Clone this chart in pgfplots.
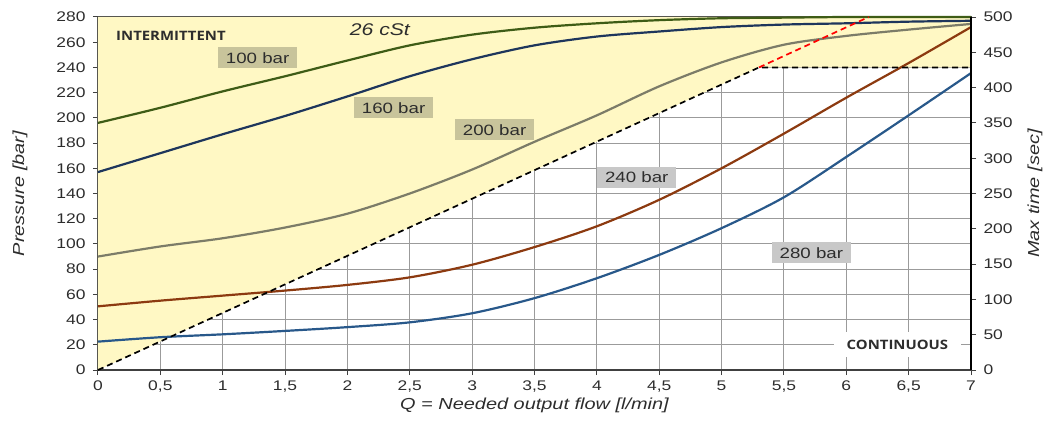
\documentclass[border=0pt]{standalone}
\usepackage{fontspec}
\setmainfont[FakeStretch=1.25]{Liberation Sans}
\newfontfamily\boldlabel[FakeStretch=1.15]{Open Sans}
\usepackage{pgfplots}
\pgfplotsset{compat=1.18}
\definecolor{yellowbg}{RGB}{255,248,196}
\definecolor{gridgray}{RGB}{155,155,155}
\definecolor{axisgray}{RGB}{64,64,64}
\definecolor{labelgray}{RGB}{45,45,45}
\definecolor{cgreen}{RGB}{62,92,22}
\definecolor{cnavy}{RGB}{30,54,92}
\definecolor{cgray}{RGB}{124,124,104}
\definecolor{cbrown}{RGB}{140,58,16}
\definecolor{cblue}{RGB}{40,88,138}
\definecolor{khaki}{RGB}{200,196,155}
\definecolor{boxgray}{RGB}{200,200,200}
\pgfplotstableread{
x p100 p160 p200 p240 p280
0 196 157 90 50.5 22.5
0.5 208 172 98 55 26
1 221 187 104.5 59 28.3
1.5 233 201.5 113 63 31
2 245.5 217 124 67.5 34
2.5 257.5 233 140 73.5 37.8
3 266 246.5 159 83.5 45
3.5 271.5 257.5 181 97.5 57
4 275 264.5 202 114 72.8
4.5 277.5 268.5 225 135 91.3
5 279 272 244 160 112.5
5.5 279.5 274 258 187.5 137
6 280 275 265 216 169
6.5 280 276.3 270 243.5 202
7 280 277 274.5 272 235.5
}\curves
\begin{document}
\begin{tikzpicture}
\begin{axis}[
  name=main,
  scale only axis, width=873bp, height=353bp,
  xmin=0, xmax=7, ymin=0, ymax=280,
  xtick={0,0.5,...,7}, ytick={0,20,...,280},
  grid=major, grid style={color=gridgray, line width=1.1bp},
  axis line style={color=axisgray, line width=1.3bp},
  tick style={color=axisgray, line width=1bp},
  tick align=outside, tick pos=left, major tick length=5bp,
  /pgf/number format/use comma,
  /pgf/number format/assume math mode=true,
  ticklabel style={font=\fontsize{14}{14}\selectfont, text=labelgray},
  yticklabel style={xshift=-4bp},
  xticklabel style={yshift=-2bp},
  xlabel={\itshape Q = Needed output flow [l/min]},
  ylabel={\itshape Pressure [bar]},
  every axis x label/.append style={at={(axis description cs:0.5,-0.099)}, anchor=center, font=\fontsize{16}{16}\selectfont, text=labelgray},
  every axis y label/.append style={at={(axis description cs:-0.0893,0.5)}, anchor=center, rotate=0, font=\fontsize{16}{16}\selectfont, text=labelgray},
  clip=false,
]
\addplot[fill=yellowbg, draw=none] coordinates {(0,0) (5.3,240) (7,240) (7,280) (0,280) (0,0)};
\addplot[cgreen, line width=2.2bp, smooth] table[x=x, y=p100] {\curves};
\addplot[cnavy, line width=2.2bp, smooth] table[x=x, y=p160] {\curves};
\addplot[cgray, line width=2.2bp, smooth] table[x=x, y=p200] {\curves};
\addplot[cbrown, line width=2.2bp, smooth] table[x=x, y=p240] {\curves};
\addplot[cblue, line width=2.2bp, smooth] table[x=x, y=p280] {\curves};
\addplot[black, line width=1.7bp, dash pattern=on 6bp off 4bp] coordinates {(0,0) (5.3,240) (7,240)};
\addplot[red, line width=1.7bp, dash pattern=on 6bp off 4bp] coordinates {(5.3,240) (6.18,280)};
\node[fill=yellowbg, inner xsep=12bp, minimum height=30bp, font=\boldlabel\bfseries\fontsize{13}{13}\selectfont, text=labelgray] at (axis cs:0.585,265) {INTERMITTENT};
\node[fill=white, inner xsep=13bp, minimum height=25bp, font=\boldlabel\bfseries\fontsize{13}{13}\selectfont, text=labelgray] at (axis cs:6.41,20.2) {CONTINUOUS};
\node[font=\itshape\fontsize{17}{17}\selectfont, text=labelgray] at (axis cs:2.26,270) {26 cSt};
\node[fill=khaki, inner xsep=8bp, minimum height=21bp, font=\fontsize{15}{15}\selectfont, text=labelgray] at (axis cs:1.28,247.6) {100 bar};
\node[fill=khaki, inner xsep=8bp, minimum height=21bp, font=\fontsize{15}{15}\selectfont, text=labelgray] at (axis cs:2.37,208) {160 bar};
\node[fill=khaki, inner xsep=8bp, minimum height=21bp, font=\fontsize{15}{15}\selectfont, text=labelgray] at (axis cs:3.18,190.5) {200 bar};
\node[fill=boxgray, inner xsep=8bp, minimum height=21bp, font=\fontsize{15}{15}\selectfont, text=labelgray] at (axis cs:4.32,153) {240 bar};
\node[fill=boxgray, inner xsep=8bp, minimum height=21bp, font=\fontsize{15}{15}\selectfont, text=labelgray] at (axis cs:5.72,93) {280 bar};
\end{axis}
\begin{axis}[
  scale only axis, width=873bp, height=353bp,
  xmin=0, xmax=7, ymin=0, ymax=500,
  axis x line=none, axis y line*=right,
  ytick={0,50,...,500},
  axis line style={color=black, line width=1.3bp},
  tick style={color=axisgray, line width=1bp},
  tick align=outside, major tick length=5bp,
  /pgf/number format/assume math mode=true,
  ticklabel style={font=\fontsize{14}{14}\selectfont, text=labelgray},
  yticklabel style={xshift=4bp},
  ylabel={\itshape Max time [sec]},
  every axis y label/.append style={at={(axis description cs:1.0733,0.5)}, anchor=center, rotate=0, font=\fontsize{16}{16}\selectfont, text=labelgray},
]
\end{axis}
\pgfresetboundingbox
\path[use as bounding box] ([shift={(-98bp,-55bp)}]main.south west) rectangle ([shift={(83bp,17bp)}]main.north east);
\end{tikzpicture}
\end{document}
